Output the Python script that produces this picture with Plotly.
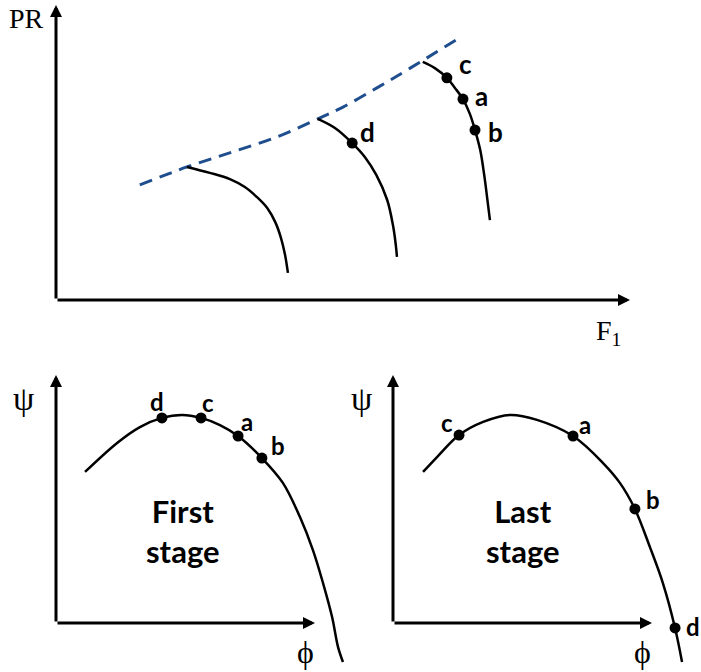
import plotly.graph_objects as go

W, H = 701, 672

# ---------------- Compressor map: PR vs F1 ----------------
surge_F = [14.6, 22.8, 30.8, 38.5, 45.6, 50.0, 55.9, 61.7, 70.0]
surge_PR = [39.0, 45.1, 50.2, 55.3, 61.4, 65.4, 71.9, 78.6, 88.5]

speed_F = [
    [22.8, 26.8, 30.3, 32.9, 35.0, 36.8, 38.2, 39.2, 39.9, 40.4],
    [45.6, 48.6, 51.6, 53.8, 55.8, 57.7, 58.7, 59.2, 59.4],
    [63.9, 66.0, 68.1, 69.5, 70.9, 72.1, 73.0, 73.9, 74.6, 75.1, 75.6],
]
speed_PR = [
    [45.1, 43.1, 41.0, 38.3, 34.9, 31.2, 26.4, 21.0, 15.3, 9.2],
    [61.4, 58.3, 53.2, 48.5, 42.4, 33.9, 25.4, 18.6, 14.6],
    [80.7, 78.6, 75.3, 71.9, 68.1, 63.1, 57.6, 50.9, 42.4, 34.9, 27.1],
]

map_pt_names = ["c", "a", "b", "d"]
map_pt_F = [68.1, 70.9, 73.0, 51.6]
map_pt_PR = [75.3, 68.1, 57.6, 53.2]

# ---------------- Stage characteristics: psi vs phi ----------------
first_phi = [11.2, 23.6, 32.4, 40.9, 48.7, 56.0, 63.3, 70.3, 79.5, 87.6, 94.2, 99.2, 103.1, 106.6, 108.9, 110.8]
first_psi = [60.9, 72.6, 79.0, 82.7, 83.9, 82.7, 79.8, 75.4, 66.5, 56.5, 42.7, 29.4, 16.1, 2.4, -9.7, -15.7]
first_pt_names = ["d", "c", "a", "b"]
first_pt_phi = [40.9, 56.0, 70.3, 79.5]
first_pt_psi = [82.7, 82.7, 75.4, 66.5]

last_phi = [11.6, 17.0, 25.5, 34.8, 45.2, 55.6, 69.5, 81.1, 87.6, 93.4, 99.2, 104.2, 108.9, 111.6]
last_psi = [60.9, 66.9, 75.8, 81.1, 83.9, 81.9, 75.4, 64.5, 56.5, 46.0, 30.6, 16.1, -2.0, -15.7]
last_pt_names = ["c", "a", "b", "d"]
last_pt_phi = [25.5, 69.5, 93.4, 108.9]
last_pt_psi = [75.8, 75.4, 46.0, -2.0]

# ---------------- panel geometry (pixels) ----------------
# origin of the drawn axes, arrow tips, and the pixel box of each subplot
panels = {
    "top": dict(origin=(56, 300), xtip=630, ytip=5, box=(0, 701, 0, 345)),
    "left": dict(origin=(56, 623), xtip=315, ytip=375, box=(0, 350, 345, 672)),
    "right": dict(origin=(393, 623), xtip=652, ytip=375, box=(350, 701, 345, 672)),
}


def axis_setup(p):
    ox, oy = p["origin"]
    x0, x1, y0, y1 = p["box"]
    sx = (p["xtip"] - ox) / 100.0
    sy = (oy - p["ytip"]) / 100.0
    xdom = [x0 / W, x1 / W]
    ydom = [1 - y1 / H, 1 - y0 / H]
    xr = [(x0 - ox) / sx, (x1 - ox) / sx]
    yr = [(oy - y1) / sy, (oy - y0) / sy]
    return xdom, xr, ydom, yr


fig = go.Figure()

axis_ids = {"top": ("x", "y"), "left": ("x2", "y2"), "right": ("x3", "y3")}
for key, (xa, ya) in axis_ids.items():
    xdom, xr, ydom, yr = axis_setup(panels[key])
    xname = "xaxis" if xa == "x" else "xaxis" + xa[1:]
    yname = "yaxis" if ya == "y" else "yaxis" + ya[1:]
    fig.update_layout({
        xname: dict(domain=xdom, range=xr, visible=False, fixedrange=True,
                    anchor=ya),
        yname: dict(domain=ydom, range=yr, visible=False, fixedrange=True,
                    anchor=xa),
    })

BLUE = "#1f4e8e"
CURVE = dict(color="black", width=2.5, shape="spline", smoothing=1.0)
DOT = dict(color="black", size=11)
SERIF = "Liberation Serif"

# surge line
fig.add_trace(go.Scatter(x=surge_F, y=surge_PR, mode="lines",
                         line=dict(color=BLUE, width=3, dash="13px,8px", shape="spline"),
                         xaxis="x", yaxis="y", hoverinfo="skip"))
# speed lines
for fx, py in zip(speed_F, speed_PR):
    fig.add_trace(go.Scatter(x=fx, y=py, mode="lines", line=CURVE,
                             xaxis="x", yaxis="y", hoverinfo="skip"))
fig.add_trace(go.Scatter(x=map_pt_F, y=map_pt_PR, mode="markers", marker=DOT,
                         xaxis="x", yaxis="y", cliponaxis=False))

# stage curves
fig.add_trace(go.Scatter(x=first_phi, y=first_psi, mode="lines", line=CURVE,
                         xaxis="x2", yaxis="y2", hoverinfo="skip"))
fig.add_trace(go.Scatter(x=first_pt_phi, y=first_pt_psi, mode="markers", marker=DOT,
                         xaxis="x2", yaxis="y2", cliponaxis=False))
fig.add_trace(go.Scatter(x=last_phi, y=last_psi, mode="lines", line=CURVE,
                         xaxis="x3", yaxis="y3", hoverinfo="skip"))
fig.add_trace(go.Scatter(x=last_pt_phi, y=last_pt_psi, mode="markers", marker=DOT,
                         xaxis="x3", yaxis="y3", cliponaxis=False))

annotations = []

# axis arrows
for key, (xa, ya) in axis_ids.items():
    for hx, hy in [(100, 0), (0, 100)]:
        annotations.append(dict(
            x=hx, y=hy, ax=0, ay=0, xref=xa, yref=ya, axref=xa, ayref=ya,
            text="", showarrow=True, arrowhead=2, arrowsize=0.8,
            arrowwidth=3, arrowcolor="black", standoff=0,
        ))

# point labels, offsets in pixels (right, down)
label_offsets = {
    "top": [(19, -14), (19, -3), (20, 2), (15, -11)],
    "left": [(-5, -16), (7, -15), (9, -15), (16, -13)],
    "right": [(-12, -13), (12, -12), (18, -9), (18, -1)],
}
label_sizes = {"top": 26, "left": 24, "right": 24}
label_sets = {
    "top": (map_pt_names, map_pt_F, map_pt_PR),
    "left": (first_pt_names, first_pt_phi, first_pt_psi),
    "right": (last_pt_names, last_pt_phi, last_pt_psi),
}
for key, (names, xs, ys) in label_sets.items():
    xa, ya = axis_ids[key]
    for name, xv, yv, (dx, dy) in zip(names, xs, ys, label_offsets[key]):
        annotations.append(dict(
            x=xv, y=yv, xref=xa, yref=ya, text=name, showarrow=False,
            xshift=dx, yshift=-dy,
            font=dict(family="Lato", size=label_sizes[key], color="black", weight="bold"),
        ))

# axis titles
annotations += [
    dict(x=-5.2, y=95.3, xref="x", yref="y", text="PR", showarrow=False,
         font=dict(family=SERIF, size=28, color="black")),
    dict(x=96.3, y=-11, xref="x", yref="y", text="F<sub>1</sub>", showarrow=False,
         font=dict(family=SERIF, size=28, color="black")),
    dict(x=-12.5, y=90.5, xref="x2", yref="y2", text="ψ", showarrow=False,
         font=dict(family=SERIF, size=34, color="black")),
    dict(x=96.5, y=-11.5, xref="x2", yref="y2", text="ϕ", showarrow=False,
         font=dict(family=SERIF, size=32, color="black")),
    dict(x=-12, y=90.5, xref="x3", yref="y3", text="ψ", showarrow=False,
         font=dict(family=SERIF, size=34, color="black")),
    dict(x=96.5, y=-11.5, xref="x3", yref="y3", text="ϕ", showarrow=False,
         font=dict(family=SERIF, size=32, color="black")),
    dict(x=49.0, y=37, xref="x2", yref="y2", text="First<br>stage", showarrow=False,
         font=dict(family="Lato", size=31, color="black", weight="bold")),
    dict(x=50.2, y=37, xref="x3", yref="y3", text="Last<br>stage", showarrow=False,
         font=dict(family="Lato", size=31, color="black", weight="bold")),
]

fig.update_layout(
    width=W, height=H,
    margin=dict(l=0, r=0, t=0, b=0),
    paper_bgcolor="white", plot_bgcolor="rgba(0,0,0,0)",
    showlegend=False,
    annotations=annotations,
)

fig.write_html("out.html", config={"displayModeBar": False})
